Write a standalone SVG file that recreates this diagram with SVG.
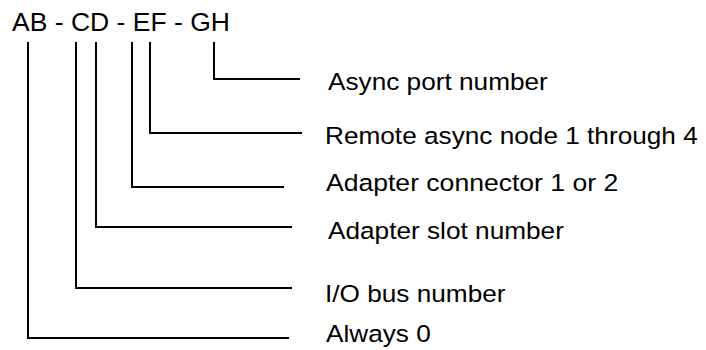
<svg xmlns="http://www.w3.org/2000/svg" width="706" height="350" viewBox="0 0 706 350">
<style>
.t{font-family:"Liberation Sans",Arial,sans-serif;fill:#000}
.lbl{font-size:23.3px}
.ttl{font-size:26.5px}
.c{fill:none;stroke:#000;stroke-width:2;stroke-linejoin:miter;stroke-linecap:butt}
</style>
<rect width="706" height="350" fill="#fff"/>
<g id="code"><text class="t ttl" x="12" y="31">AB - CD - EF - GH</text></g>
<g id="connectors">
<path class="c" d="M214,42 V79 H300"/>
<path class="c" d="M150,42 V133 H302"/>
<path class="c" d="M132,42 V187 H284"/>
<path class="c" d="M96,42 V227 H292"/>
<path class="c" d="M76,42 V288 H292"/>
<path class="c" d="M28,42 V338 H289"/>
</g>
<g id="gh"><text class="t lbl" transform="translate(328,90) scale(1.125,1)">Async port number</text></g>
<g id="f"><text class="t lbl" transform="translate(325,144) scale(1.125,1)">Remote async node 1 through 4</text></g>
<g id="e"><text class="t lbl" transform="translate(326,191) scale(1.14,1)">Adapter connector 1 or 2</text></g>
<g id="d"><text class="t lbl" transform="translate(328,239) scale(1.125,1)">Adapter slot number</text></g>
<g id="c"><text class="t lbl" transform="translate(325,302) scale(1.125,1)">I/O bus number</text></g>
<g id="a"><text class="t lbl" transform="translate(326,342) scale(1.125,1)">Always 0</text></g>
</svg>
